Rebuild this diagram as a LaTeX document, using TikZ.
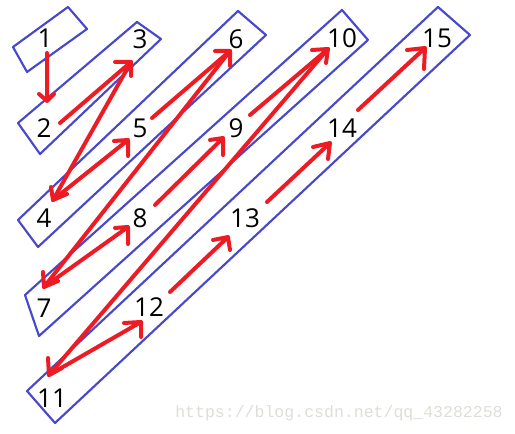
\documentclass[tikz,border=0pt]{standalone}
\usepackage{fontspec}
\setmainfont{Open Sans}
\newfontfamily\wmfont{Liberation Mono}
\definecolor{boxblue}{RGB}{72,72,204}
\definecolor{penred}{RGB}{237,28,36}
\definecolor{wmgray}{RGB}{222,222,216}
\begin{document}
\begin{tikzpicture}[x=0.75pt,y=-0.75pt,
  num/.style={inner sep=0pt,font=\fontsize{19.5}{20}\selectfont},
  band/.style={draw=boxblue,line width=1.6pt,line join=round},
  stroke/.style={draw=penred,line width=3pt,line cap=round,line join=round}]
\useasboundingbox (0,0) rectangle (515,434);
% bands
\draw[band] (13,47) -- (68,7) -- (87,29) -- (27,72) -- cycle;
\draw[band] (18,123) -- (137,22) -- (161,39) -- (40,154) -- cycle;
\draw[band] (18,220) -- (238,11) -- (266,35) -- (38,247) -- cycle;
\draw[band] (25,295) -- (342,10) -- (368,40) -- (39,336) -- cycle;
\draw[band] (27,391) -- (438,7) -- (470,35) -- (55,423) -- cycle;
% numbers
\node[num] (n1) at (45,38) {1};
\node[num] (n2) at (44,128) {2};
\node[num] (n3) at (140,39) {3};
\node[num] (n4) at (44,218) {4};
\node[num] (n5) at (140,128) {5};
\node[num] (n6) at (236,39) {6};
\node[num] (n7) at (44,308) {7};
\node[num] (n8) at (140,218) {8};
\node[num] (n9) at (236,128) {9};
\node[num] (n10) at (342,38) {10};
\node[num] (n11) at (52,398) {11};
\node[num] (n12) at (149,307) {12};
\node[num] (n13) at (245,218) {13};
\node[num] (n14) at (342,128) {14};
\node[num] (n15) at (437,38) {15};
% arrow ends
\coordinate (s1) at (47,53);
\coordinate (t2) at (47,101);
\coordinate (s2) at (60,123);
\coordinate (t3) at (131,62);
\coordinate (t4) at (53,200);
\coordinate (t5) at (128,140);
\coordinate (s5) at (152,118);
\coordinate (t6) at (230,51);
\coordinate (t7) at (44,287);
\coordinate (t8) at (128,227);
\coordinate (s8) at (155,205);
\coordinate (t9) at (223,138);
\coordinate (s9) at (250,115);
\coordinate (t10) at (328,49);
\coordinate (t11) at (49,375);
\coordinate (t12) at (141,322);
\coordinate (s12) at (170,292);
\coordinate (t13) at (228,237);
\coordinate (s13) at (267,202);
\coordinate (t14) at (330,143);
\coordinate (s14) at (358,110);
\coordinate (t15) at (425,48);
% arrows
\draw[stroke] (s1) -- (t2) ++(-8,-7) -- (t2) -- ++(7,-7);
\draw[stroke] (s2) -- (t3) ++(-16,0) -- (t3) -- ++(0,14);
\draw[stroke] (t3) -- (t4) ++(-2,-13) -- (t4) -- ++(14,-6);
\draw[stroke] (t4) -- (t5) ++(-14,1) -- (t5) -- ++(0,16);
\draw[stroke] (s5) -- (t6) ++(-15,0) -- (t6) -- ++(0,15);
\draw[stroke] (t6) -- (t7) ++(-1,-15) -- (t7) -- ++(14,-6);
\draw[stroke] (t7) -- (t8) ++(-13,1) -- (t8) -- ++(0,17);
\draw[stroke] (s8) -- (t9) ++(-13,2) -- (t9) -- ++(0,17);
\draw[stroke] (s9) -- (t10) ++(-16,1) -- (t10) -- ++(-2,14);
\draw[stroke] (t10) -- (t11) ++(-1,-17) -- (t11) -- ++(13,-7);
\draw[stroke] (t11) -- (t12) ++(-17,1) -- (t12) -- ++(0,15);
\draw[stroke] (s12) -- (t13) ++(-15,3) -- (t13) -- ++(2,13);
\draw[stroke] (s13) -- (t14) ++(-17,4) -- (t14) -- ++(-2,16);
\draw[stroke] (s14) -- (t15) ++(-18,2) -- (t15) -- ++(-1,21);
% watermark
\node[text=wmgray,inner sep=0pt,font=\wmfont\fontsize{12.4}{13}\selectfont] (wm) at (339,413) {https://blog.csdn.net/qq\_43282258};
\end{tikzpicture}
\end{document}
